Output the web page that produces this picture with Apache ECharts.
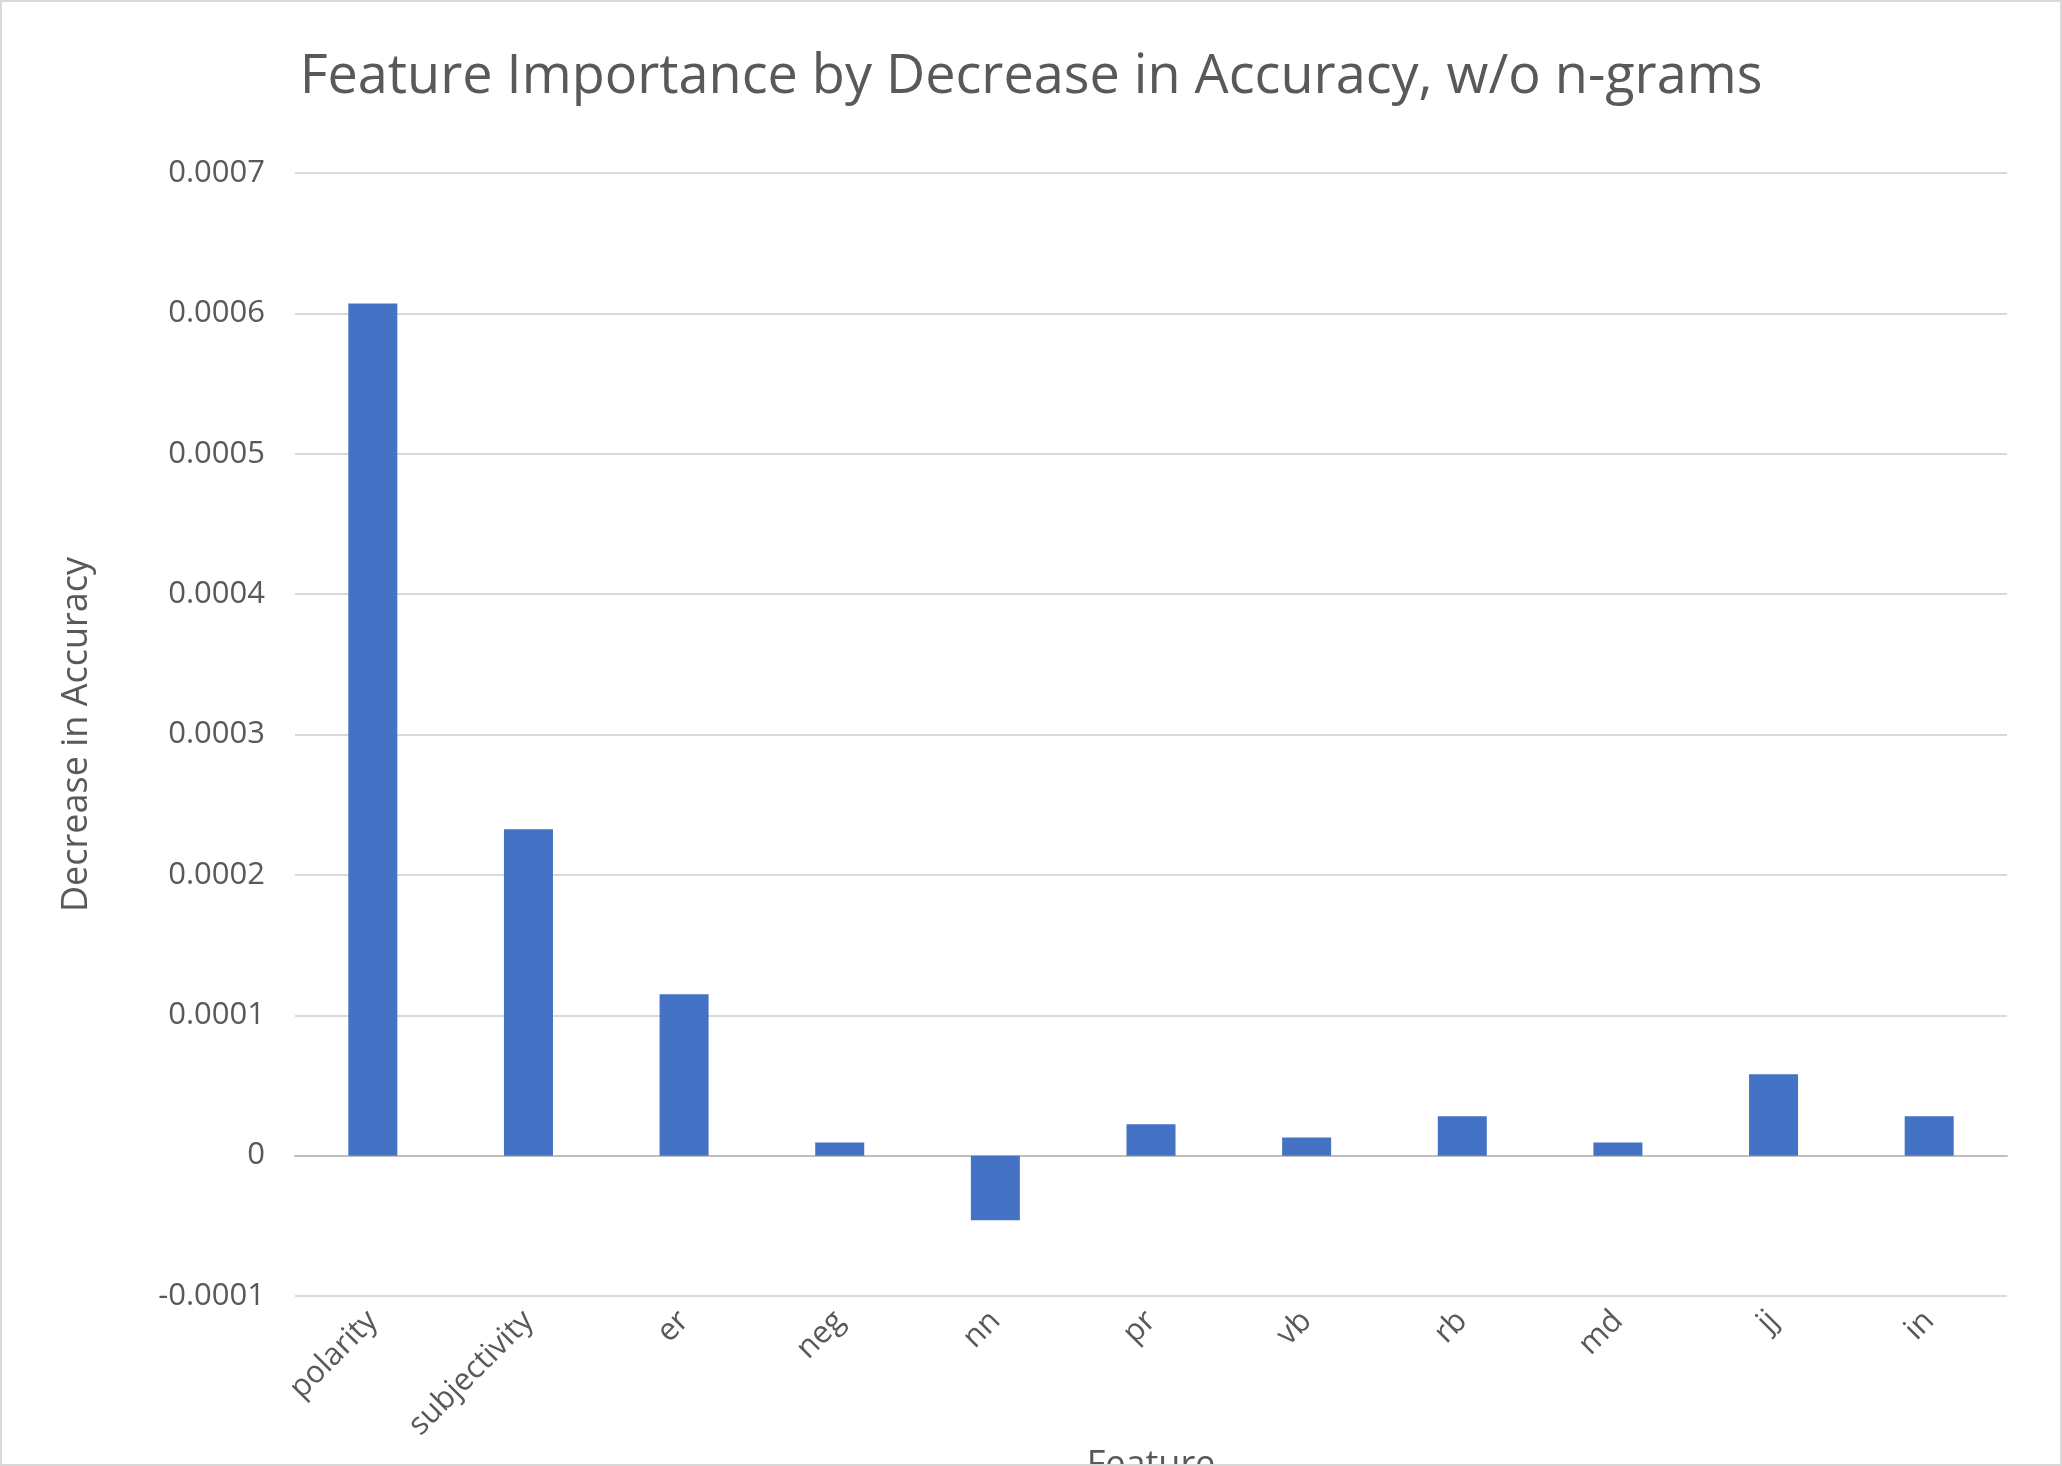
<!DOCTYPE html>
<html><head><meta charset="utf-8">
<script src="https://cdn.jsdelivr.net/npm/echarts@6/dist/echarts.min.js"></script>
<style>html,body{margin:0;background:#fff}#c{width:2062px;height:1466px;box-sizing:border-box;border:2px solid #d9d9d9}</style>
</head><body><div id="c"></div>
<script>
var features = ["polarity","subjectivity","er","neg","nn","pr","vb","rb","md","jj","in"];
var decrease = [0.000607,0.0002325,0.000115,0.0000093,-0.000046,0.0000224,0.000013,0.000028,0.0000093,0.000058,0.000028];
var yTicks = [-0.0001,0,0.0001,0.0002,0.0003,0.0004,0.0005,0.0006,0.0007];

var chart = echarts.init(document.getElementById('c'));
var font = '"Open Sans", "Liberation Sans", sans-serif';
chart.setOption({
    animation: false,
    title: {
        text: "Feature Importance by Decrease in Accuracy, w/o n-grams",
        left: 'center', top: 44,
        textStyle: { fontFamily: font, fontSize: 54, fontWeight: 'normal', color: '#595959' }
    },
    grid: { left: 293, right: 53, top: 171, bottom: 168, containLabel: false, outerBoundsMode: 'none' },
    xAxis: {
        type: 'category', data: features,
        name: 'Feature', nameLocation: 'middle', nameGap: 90,
        nameTextStyle: { fontFamily: font, fontSize: 36, color: '#595959' },
        axisLine: { lineStyle: { color: '#bfbfbf', width: 2 } },
        axisTick: { show: false },
        axisLabel: { rotate: 45, fontFamily: font, fontSize: 31, color: '#595959', margin: 20, interval: 0 }
    },
    yAxis: {
        type: 'value', min: yTicks[0], max: yTicks[yTicks.length - 1], interval: 0.0001,
        name: 'Decrease in Accuracy', nameLocation: 'middle', nameGap: 200,
        nameTextStyle: { fontFamily: font, fontSize: 36, color: '#595959' },
        axisLine: { show: false }, axisTick: { show: false },
        axisLabel: { fontFamily: font, fontSize: 31, color: '#595959', margin: 30,
            formatter: function (v) { return Number(v.toFixed(4)).toString(); } },
        splitLine: { lineStyle: { color: '#d9d9d9', width: 2 } }
    },
    series: [{
        type: 'bar', data: decrease, barWidth: 49,
        itemStyle: { color: '#4472C4' }
    }]
});
</script></body></html>
